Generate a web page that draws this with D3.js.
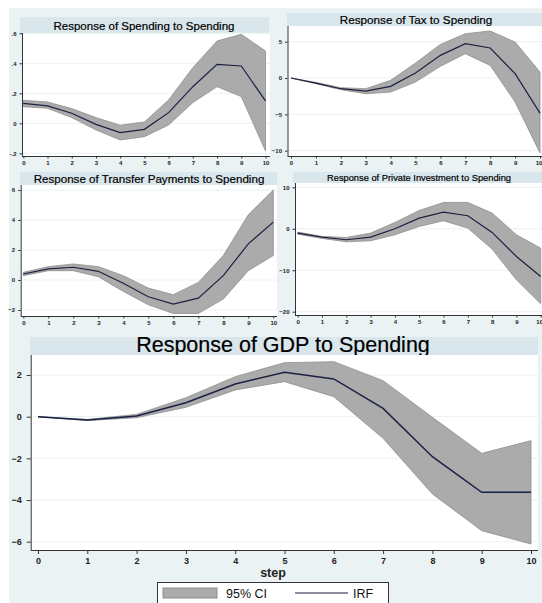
<!DOCTYPE html>
<html>
<head>
<meta charset="utf-8">
<script src="https://cdn.jsdelivr.net/npm/d3@7"></script>
<style>
  html, body { margin: 0; padding: 0; background: #fff; }
  svg { display: block; font-family: "Liberation Sans", Arial, sans-serif; }
</style>
</head>
<body>
<div id="chart"></div>
<script>
// impulse responses, steps 0..10
var steps = [0, 1, 2, 3, 4, 5, 6, 7, 8, 9, 10];

var spendIrf = [0.133, 0.116, 0.067, -0.007, -0.062, -0.04, 0.071, 0.244, 0.393, 0.382, 0.149];
var spendHi  = [0.153, 0.142, 0.098, 0.038, -0.013, 0.009, 0.156, 0.371, 0.549, 0.593, 0.482];
var spendLo  = [0.111, 0.1, 0.038, -0.044, -0.111, -0.089, -0.011, 0.138, 0.244, 0.178, -0.184];

var taxIrf = [0, -0.69, -1.47, -1.79, -1.15, 0.69, 3.12, 4.72, 4.13, 0.6, -4.82];
var taxHi  = [0, -0.6, -1.33, -1.47, -0.32, 2.06, 4.63, 6.1, 6.47, 4.95, 0.83];
var taxLo  = [0, -0.78, -1.6, -2.16, -1.93, -0.55, 1.61, 3.35, 1.74, -3.3, -10.3];

var trIrf = [0.4, 0.74, 0.85, 0.58, -0.22, -1.12, -1.61, -1.21, 0.29, 2.41, 3.86];
var trHi  = [0.51, 0.89, 1.07, 0.89, 0.29, -0.54, -0.98, -0.16, 1.63, 4.35, 6.0];
var trLo  = [0.29, 0.62, 0.62, 0.22, -0.76, -1.65, -2.23, -2.23, -1.27, 0.62, 1.63];

var invIrf = [-1.05, -2.0, -2.65, -2.0, 0, 2.57, 4.0, 3.14, -0.88, -6.68, -11.5];
var invHi  = [-0.8, -1.85, -2.1, -1.05, 1.53, 4.42, 6.35, 6.35, 3.78, -1.45, -4.67];
var invLo  = [-1.3, -2.33, -3.14, -2.9, -1.45, 0.56, 1.93, 0.16, -4.9, -12.3, -18.1];

var gdpIrf = [0, -0.16, 0.03, 0.67, 1.57, 2.13, 1.81, 0.4, -1.92, -3.63, -3.63];
var gdpHi  = [0, -0.13, 0.11, 0.91, 1.92, 2.59, 2.64, 1.73, -0.03, -1.76, -1.15];
var gdpLo  = [0, -0.19, -0.05, 0.45, 1.28, 1.68, 0.96, -1.04, -3.71, -5.47, -6.11];

var spendTicks = [-0.2, 0, 0.2, 0.4, 0.6];
var taxTicks = [-10, -5, 0, 5];
var trTicks = [-2, 0, 2, 4, 6];
var invTicks = [-20, -10, 0, 10];
var gdpTicks = [-6, -4, -2, 0, 2];

var legendLabels = ["95% CI", "IRF"];

var W = 542, H = 603;
var bg = "#eaf2f3", band = "#d9e6eb", ciFill = "#ababab", ciEdge = "#8e8e8e", irfColor = "#1b2142";

var svg = d3.select("#chart").append("svg")
    .attr("width", W)
    .attr("height", H);

svg.append("rect").attr("x", 9).attr("y", 8).attr("width", W - 9).attr("height", H - 8).attr("fill", bg);

function stataFmt(d) {
  if (d === 0) return "0";
  return String(d).replace("0.", ".");
}

function panel(c) {
  var g = svg.append("g");

  // title band + title
  g.append("rect")
      .attr("x", c.band[0]).attr("y", c.band[2])
      .attr("width", c.band[1] - c.band[0]).attr("height", c.band[3] - c.band[2])
      .attr("fill", band);
  g.append("text")
      .attr("x", c.titleX).attr("y", c.titleY)
      .attr("text-anchor", "middle")
      .attr("font-size", c.titleSize + "px")
      .attr("fill", "#000")
      .attr("stroke", "#000")
      .attr("stroke-width", 0.2)
      .text(c.title);

  // plot region
  g.append("rect")
      .attr("x", c.plot[0]).attr("y", c.plot[2])
      .attr("width", c.plot[1] - c.plot[0]).attr("height", c.plot[3] - c.plot[2])
      .attr("fill", "#fff");

  var x = d3.scaleLinear().domain([0, 10]).range(c.xr);
  var y = d3.scaleLinear().domain([c.ticks[0], c.ticks[c.ticks.length - 1]]).range(c.yr);

  g.selectAll(".grid")
      .data(c.ticks)
    .enter().append("line")
      .attr("x1", c.plot[0] + 1).attr("x2", c.plot[1])
      .attr("y1", function(d) { return y(d); })
      .attr("y2", function(d) { return y(d); })
      .attr("stroke", bg)
      .attr("stroke-width", 1);

  var area = d3.area()
      .x(function(d, i) { return x(steps[i]); })
      .y0(function(d, i) { return y(c.lo[i]); })
      .y1(function(d, i) { return y(c.hi[i]); });

  g.append("path")
      .datum(steps)
      .attr("d", area)
      .attr("fill", ciFill)
      .attr("stroke", ciEdge)
      .attr("stroke-width", 0.8);

  var line = d3.line()
      .x(function(d, i) { return x(steps[i]); })
      .y(function(d) { return y(d); });

  g.append("path")
      .datum(c.irf)
      .attr("d", line)
      .attr("fill", "none")
      .attr("stroke", irfColor)
      .attr("stroke-width", c.lw);

  // axes
  var ya = g.append("g")
      .attr("transform", "translate(" + c.plot[0] + ",0)")
      .call(d3.axisLeft(y).tickValues(c.ticks).tickFormat(c.fmt || d3.format("d"))
        .tickSize(c.tick).tickPadding(c.pad).tickSizeOuter(0));
  ya.select(".domain").attr("d", "M0.5," + c.plot[2] + "V" + c.plot[3]);

  var xa = g.append("g")
      .attr("transform", "translate(0," + c.plot[3] + ")")
      .call(d3.axisBottom(x).tickValues(steps).tickFormat(d3.format("d"))
        .tickSize(c.tick).tickPadding(c.pad - 1).tickSizeOuter(0));
  xa.select(".domain").attr("d", "M" + c.plot[0] + ",0.5H" + c.plot[1]);

  g.selectAll(".tick text")
      .attr("font-size", c.tickFont + "px")
      .attr("font-weight", "bold")
      .attr("fill", "#222")
      .attr("font-family", "Liberation Sans, Arial, sans-serif");
  // right-hand panels: keep the last label inside the window
  if (c.endLast) {
    xa.selectAll(".tick text").filter(function(d) { return d === 10; })
        .attr("text-anchor", "end").attr("dx", "0.3em");
  }
  g.selectAll(".domain, .tick line").attr("stroke", "#333");
  return { x: x, y: y };
}

panel({
  title: "Response of Spending to Spending", titleSize: 11.5, titleX: 144, titleY: 30,
  band: [20, 269, 17, 33], plot: [22, 270, 33, 156],
  xr: [23.3, 265.5], yr: [153.3, 33.3], ticks: spendTicks, fmt: stataFmt,
  irf: spendIrf, lo: spendLo, hi: spendHi, lw: 1.2, tick: 2.5, pad: 3, tickFont: 6
});

panel({
  title: "Response of Tax to Spending", titleSize: 11.7, titleX: 416, titleY: 23.5,
  band: [287, 542, 13, 26], plot: [287.5, 542, 26, 156],
  xr: [291, 540], yr: [150.7, 41.7], ticks: taxTicks,
  irf: taxIrf, lo: taxLo, hi: taxHi, lw: 1.2, tick: 2.5, pad: 3, tickFont: 6, endLast: true
});

panel({
  title: "Response of Transfer Payments to Spending", titleSize: 11.6, titleX: 149, titleY: 183,
  band: [20, 277, 172, 185], plot: [20.7, 277, 185, 316],
  xr: [23.3, 273.3], yr: [310, 190], ticks: trTicks,
  irf: trIrf, lo: trLo, hi: trHi, lw: 1.2, tick: 2.5, pad: 3, tickFont: 6
});

panel({
  title: "Response of Private Investment to Spending", titleSize: 9.3, titleX: 419, titleY: 181,
  band: [293, 542, 172, 183], plot: [295, 542, 183, 315],
  xr: [297.7, 540.7], yr: [311.7, 187.3], ticks: invTicks,
  irf: invIrf, lo: invLo, hi: invHi, lw: 1.2, tick: 2.5, pad: 3, tickFont: 6, endLast: true
});

panel({
  title: "Response of GDP to Spending", titleSize: 21.5, titleX: 283, titleY: 352,
  band: [30, 538, 337, 355], plot: [30.7, 538, 355, 550],
  xr: [38, 531], yr: [541.7, 375], ticks: gdpTicks,
  irf: gdpIrf, lo: gdpLo, hi: gdpHi, lw: 1.5, tick: 4, pad: 5, tickFont: 9
});

// x axis title
svg.append("text")
    .attr("x", 273).attr("y", 577)
    .attr("text-anchor", "middle")
    .attr("font-size", "12.5px")
    .attr("font-weight", "bold")
    .attr("fill", "#222")
    .text("step");

// legend
var lg = svg.append("g");
lg.append("rect")
    .attr("x", 157.5).attr("y", 582.5)
    .attr("width", 231).attr("height", 30)
    .attr("fill", "#fff")
    .attr("stroke", "#333");
lg.append("rect")
    .attr("x", 163).attr("y", 588)
    .attr("width", 54).attr("height", 10)
    .attr("fill", ciFill)
    .attr("stroke", ciEdge);
lg.append("text")
    .attr("x", 226).attr("y", 598)
    .attr("font-size", "12.5px")
    .attr("fill", "#111")
    .text(legendLabels[0]);
lg.append("line")
    .attr("x1", 295).attr("x2", 348)
    .attr("y1", 593).attr("y2", 593)
    .attr("stroke", irfColor)
    .attr("stroke-width", 1.2);
lg.append("text")
    .attr("x", 353).attr("y", 598)
    .attr("font-size", "12.5px")
    .attr("fill", "#111")
    .text(legendLabels[1]);
</script>
</body>
</html>
